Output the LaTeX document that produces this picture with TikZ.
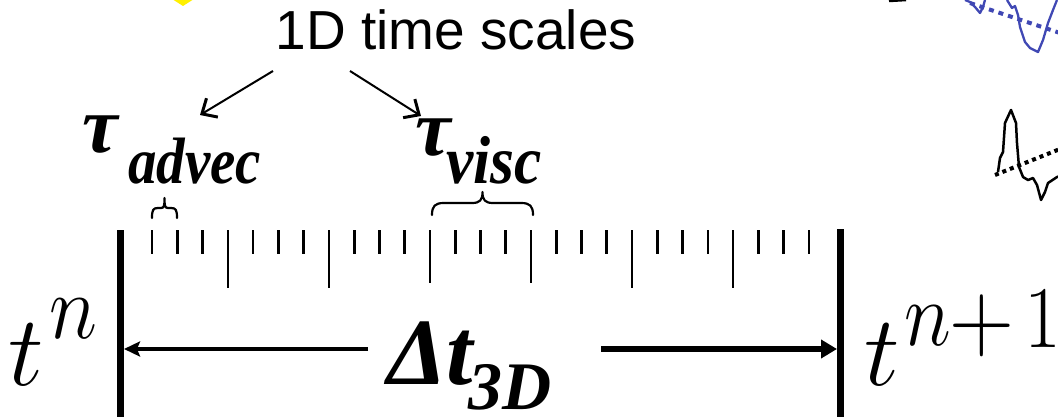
\documentclass[tikz,border=0pt]{standalone}
\usepackage{fix-cm}
\usepackage{graphicx}
\usepackage{fontspec}
\usetikzlibrary{arrows.meta}
\newfontfamily\sansf{Liberation Sans}
\newfontfamily\serf{Liberation Serif}
\definecolor{fragblue}{RGB}{64,72,180}
\definecolor{fragyellow}{RGB}{255,240,0}
\tikzset{
  txt/.style={inner sep=0pt, outer sep=0pt, anchor=base west},
  bi/.style={font=\serf\bfseries\itshape},
  tickS/.style={line width=2.8pt},
  tickL/.style={line width=2.2pt},
  bar/.style={line width=7pt},
  bracepath/.style={line width=2.2pt, line cap=round, line join=round},
  pointer/.style={line width=2pt, -{Straight Barb[length=12pt,width=22pt,line width=3pt]}},
  leftarr/.style={line width=3.6pt, -{Stealth[length=16pt,width=15pt,inset=3pt]}},
  rightarr/.style={line width=5.5pt, -{Triangle[length=16pt,width=18pt]}},
}
\begin{document}
\begin{tikzpicture}[x=1pt,y=-1pt]
\useasboundingbox (0,0) rectangle (1058,417);
\clip (0,0) rectangle (1058,417);

% edge fragments from neighbouring drawings
\fill[fragyellow] (172,-1) -- (183,6) -- (194,-1) -- cycle;
\draw[black, line width=2.5pt] (889,1) -- (906,0);
\draw[fragblue, line width=2.3pt, line join=round] (965,0) -- (970,2) -- (975,7) -- (980,13) -- (983,7) -- (985,0);
\draw[fragblue, line width=2.3pt, line join=round] (1007,0) -- (1012,8) -- (1015,6) -- (1018,15) -- (1020,27) -- (1025,42) -- (1030,48) -- (1038,52) -- (1043,40) -- (1048,23) -- (1053,10) -- (1057,0);
\draw[fragblue, line width=4pt, dash pattern=on 5pt off 5pt] (970,3) -- (1060,33);
\draw[black, line width=2.5pt, line join=round] (998,172) -- (1000,158) -- (1003,152) -- (1005,123) -- (1011,110) -- (1016,123) -- (1017,143) -- (1019,167) -- (1023,177) -- (1028,180) -- (1033,178) -- (1037,185) -- (1041,200) -- (1045,192) -- (1048,183) -- (1057,177) -- (1060,176);
\draw[black, line width=4pt, dash pattern=on 4pt off 4pt] (995,175) -- (1060,149);

% title and pointers
\node[txt, anchor=base] (title) at (456,50) {\sansf\fontsize{55}{60}\selectfont 1D time scales};
\coordinate (a1s) at (273,71);
\coordinate (a1e) at (200,115);
\coordinate (a2s) at (350,71);
\coordinate (a2e) at (421,116);
\draw[pointer] (a1s) -- (a1e);
\draw[pointer] (a2s) -- (a2e);

% tau labels
\node[txt, bi] (tauA) at (82,153) {\fontsize{80}{80}\selectfont τ};
\node[txt, bi] (subA) at (128,183) {\scalebox{1}[1.15]{\fontsize{57}{60}\selectfont advec}};
\node[txt, bi] (tauV) at (415,156) {\fontsize{80}{80}\selectfont τ};
\node[txt, bi] (subV) at (446,183) {\scalebox{1.04}[1.15]{\fontsize{59}{60}\selectfont visc}};

% braces
\draw[bracepath] (152,218) .. controls (152,210) and (153,208) .. (158,208) -- (161,208) .. controls (164,208) and (164.5,206) .. (164.5,198) .. controls (164.5,206) and (165,208) .. (168,208) -- (171,208) .. controls (176,208) and (177,210) .. (177,218);
\draw[bracepath] (432,215) .. controls (432,206) and (435,203) .. (444,203) -- (472,203) .. controls (480,203) and (482.5,200) .. (482.5,192) .. controls (482.5,200) and (485,203) .. (493,203) -- (521,203) .. controls (530,203) and (533,206) .. (533,215);

% ticks
\foreach \i in {0,...,26}{
  \pgfmathsetmacro{\xx}{152+\i*25.27}
  \ifnum\i=3 \draw[tickL] (\xx,230) -- (\xx,288);
  \else\ifnum\i=7 \draw[tickL] (\xx,230) -- (\xx,288);
  \else\ifnum\i=19 \draw[tickL] (\xx,230) -- (\xx,288);
  \else\ifnum\i=23 \draw[tickL] (\xx,230) -- (\xx,288);
  \else\ifnum\i=11 \draw[tickL] (\xx,230) -- (\xx,283);
  \else\ifnum\i=15 \draw[tickL] (\xx,230) -- (\xx,283);
  \else \draw[tickS] (\xx,230) -- (\xx,254);
  \fi\fi\fi\fi\fi\fi
}

% bars
\coordinate (barLtop) at (120.5,230);
\coordinate (barLbot) at (120.5,420);
\coordinate (barRtop) at (840.5,229);
\coordinate (barRbot) at (840.5,420);
\draw[bar] (barLtop) -- (barLbot);
\draw[bar] (barRtop) -- (barRbot);
\coordinate (tipL) at (124,349);
\coordinate (tipR) at (837,349);

% Delta t label
\node[txt, bi] (delta) at (387,384) {\fontsize{95}{95}\selectfont Δt};
\node[txt, bi] (sub3D) at (468,409) {\fontsize{68}{70}\selectfont 3D};
\coordinate (lstart) at (368,349);
\coordinate (rstart) at (601,349);
\draw[leftarr] (lstart) -- (tipL);
\draw[rightarr] (rstart) -- (tipR);

% t^n, t^{n+1}
\node[txt] (tn) at (9,385) {\fontsize{100}{100}\selectfont $t$};
\node[txt] (tnsup) at (49,338) {\scalebox{1}[1.12]{\fontsize{82}{82}\selectfont $n$}};
\node[txt] (tn1) at (864,385) {\fontsize{100}{100}\selectfont $t$};
\node[txt] (tn1sup) at (904,345) {\scalebox{1}[1.15]{\fontsize{80}{80}\selectfont $n$}};
\node[txt] (tn1plus) at (949,350) {\scalebox{1}[1.1]{\fontsize{90}{90}\selectfont $+$}};
\node[txt] (tn1one) at (1024,347) {\scalebox{1}[1.1]{\fontsize{80}{80}\selectfont $1$}};
\end{tikzpicture}
\end{document}
